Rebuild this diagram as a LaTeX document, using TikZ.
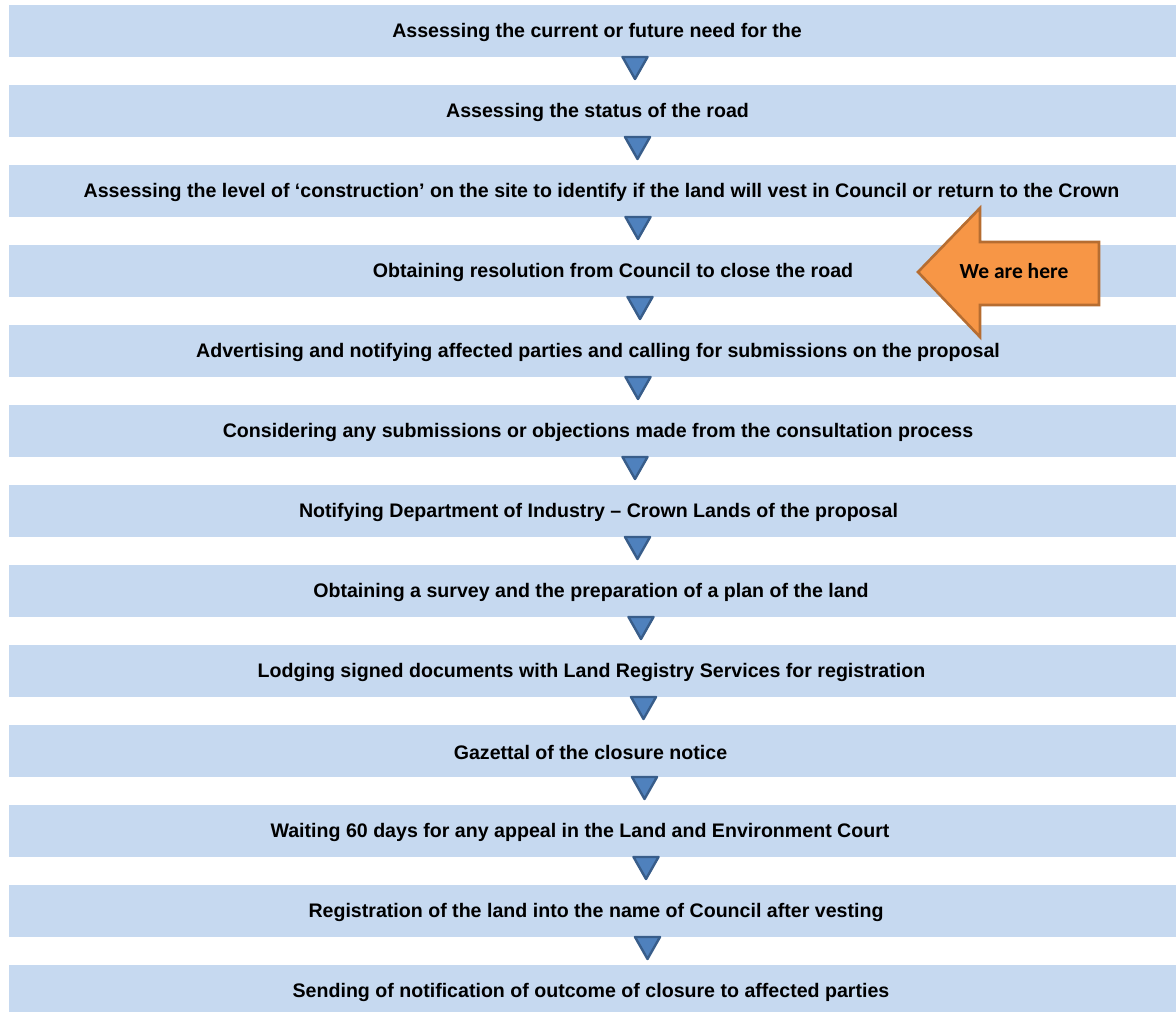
\documentclass[tikz,border=0pt]{standalone}
\usepackage{fontspec}
\setmainfont{Liberation Sans}
\newfontfamily\calfont{Carlito}
\definecolor{barfill}{RGB}{198,217,240}
\definecolor{trifill}{RGB}{79,129,189}
\definecolor{tridraw}{RGB}{56,93,138}
\definecolor{orfill}{RGB}{247,150,70}
\definecolor{ordraw}{RGB}{182,109,49}
\tikzset{
  bartext/.style={inner sep=0pt, font=\fontsize{19.6}{22}\selectfont\bfseries, text=black},
  tri/.style={fill=trifill, draw=tridraw, line width=2.4pt, line join=round},
  herearrow/.style={fill=orfill, draw=ordraw, line width=2.6pt, line join=miter},
}
\begin{document}
\begin{tikzpicture}[x=1pt,y=-1pt]
\useasboundingbox (0,0) rectangle (1176,1012);
\foreach \i/\cx/\t in {
 1/597/{Assessing the current or future need for the},
 2/597.5/{Assessing the status of the road},
 3/601.5/{Assessing the level of ‘construction’ on the site to identify if the land will vest in Council or return to the Crown},
 4/613/{Obtaining resolution from Council to close the road},
 5/598/{Advertising and notifying affected parties and calling for submissions on the proposal},
 6/598/{Considering any submissions or objections made from the consultation process},
 7/598.5/{Notifying Department of Industry – Crown Lands of the proposal},
 8/591/{Obtaining a survey and the preparation of a plan of the land},
 9/591.5/{Lodging signed documents with Land Registry Services for registration},
 10/590.5/{Gazettal of the closure notice},
 11/580/{Waiting 60 days for any appeal in the Land and Environment Court},
 12/596/{Registration of the land into the name of Council after vesting},
 13/591/{Sending of notification of outcome of closure to affected parties}}
{
  \pgfmathsetmacro{\cy}{31+80*(\i-1)}
  \fill[barfill] (9,\cy-26) rectangle (1176,\cy+26);
  \node[bartext] (b\i) at (\cx,\cy+1) {\t};
}
\foreach \i/\x in {1/635,2/637.5,3/638,4/640,5/638,6/635,7/637.5,8/641,9/643.5,10/644.5,11/646,12/647.5}
{
  \pgfmathsetmacro{\cy}{31+80*(\i-1)}
  \draw[tri] (\x-12.5,\cy+26) -- (\x+12.5,\cy+26) -- (\x,\cy+48) -- cycle;
}
\draw[herearrow] (918,272) -- (980,208) -- (980,242) -- (1099,242) -- (1099,305) -- (980,305) -- (980,337) -- cycle;
\node[font=\calfont\fontsize{21.5}{24}\selectfont\bfseries] (here) at (1014,271) {We are here};
\end{tikzpicture}
\end{document}
